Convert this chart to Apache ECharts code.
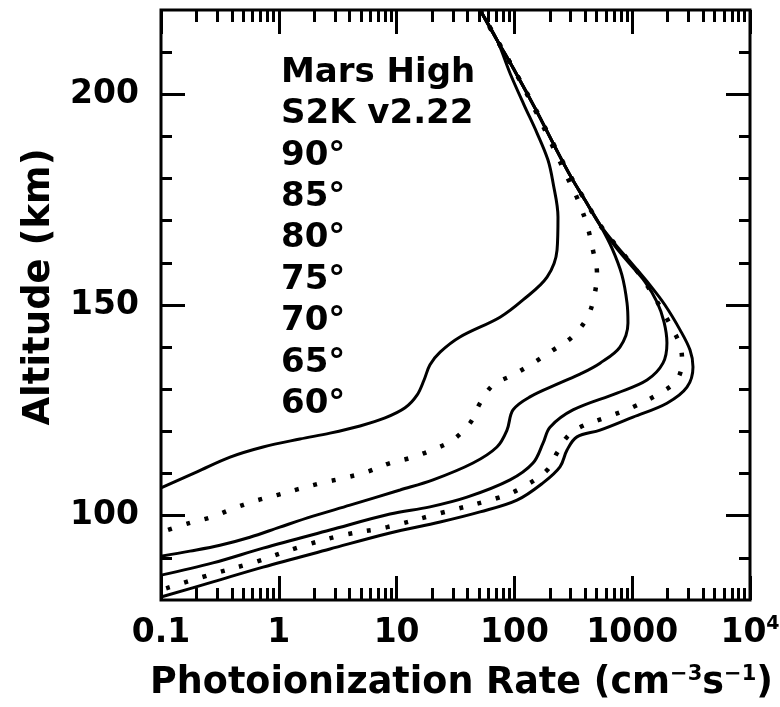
<!DOCTYPE html>
<html><head><meta charset="utf-8">
<script src="https://cdn.jsdelivr.net/npm/echarts@6/dist/echarts.min.js"></script>
<style>html,body{margin:0;padding:0;background:#fff}#c{width:780px;height:707px}</style>
</head><body><div id="c"></div>
<script>
// ---- data: [photoionization rate (cm^-3 s^-1), altitude (km)] ----
const sza90 = [[51.1,220],[71.1,212.9],[91.8,205.0],[120.6,197.5],[155.6,190.8],[192.8,184.4],[212.8,179.0],[234.4,170.9],[230.1,163.0],[189.2,156.6],[118.3,151.2],[75.5,147.1],[34.5,142.4],[23.4,138.8],[19.2,135.8],[17.1,132.2],[14.9,128.6],[11.8,125.6],[7.98,123.2],[4.89,121.3],[2.72,119.6],[1.51,118.2],[0.735,116.3],[0.386,113.9],[0.202,110.4],[0.1,106.6]];
const sza85 = [[51.1,220],[71.1,212.9],[103.2,205.0],[149.6,196.3],[212.8,187.5],[279.9,180.4],[346.7,174.9],[413.0,169.0],[464.5,163.0],[502.4,157.6],[474.2,151.9],[413.0,146.9],[308.3,142.4],[212.8,139.3],[143.9,136.2],[97.3,133.4],[65.8,131.0],[51.1,126.7],[42.0,122.0],[30.1,118.0],[20.0,115.6],[13.0,113.7],[8.79,112.5],[5.61,110.4],[3.51,108.9],[2.33,107.8],[1.46,106.3],[0.966,104.9],[0.628,103.5],[0.401,101.6],[0.271,99.7],[0.176,98.3],[0.1,96.1]];
const sza80 = [[51.1,220],[71.1,212.9],[103.2,205.0],[152.4,196.3],[221.2,187.5],[302.2,180.4],[397.2,174.9],[533.2,169.0],[673,163.5],[818.5,157.1],[903.6,150.5],[920.5,145.7],[787.0,140.0],[533.2,136.2],[360.6,133.6],[243.8,131.5],[135.5,128.2],[97.3,125.1],[86.5,120.3],[71.1,116.3],[44.5,112.5],[20.4,108.5],[10.7,106.1],[4.02,102.5],[1.95,99.9],[1.02,97.3],[0.569,94.9],[0.317,93.0],[0.176,91.6],[0.1,90.4]];
const sza70 = [[51.1,220],[71.1,212.9],[103.2,205.0],[152.4,196.3],[221.2,187.5],[302.2,180.4],[397.2,174.9],[533.2,169.0],[714,164.0],[957,159.7],[1285,155.5],[1626,150.7],[1862,146.0],[1972,141.0],[1824,136.2],[1336,132.2],[743,129.1],[314.1,125.1],[200.5,121.0],[175.0,117.2],[143.9,112.5],[91.8,108.5],[39.6,104.4],[19.2,102.1],[8.79,100.4],[2.72,96.6],[0.735,92.3],[0.276,88.8],[0.1,85.9]];
const sza65 = [[51.1,220],[71.1,212.9],[103.2,205.0],[152.4,196.3],[221.2,187.5],[302.2,180.4],[397.2,174.9],[533.2,169.0],[728,164.2],[1016,159.3],[1361,154.3],[1791,148.8],[2218,144.1],[2547,140.5],[2649,136.9],[2399,132.2],[1722,129.1],[1016,125.8],[611,123.4],[360.6,121.0],[279.9,118.7],[230.1,114.9],[189.2,110.8],[118.3,106.8],[75.5,104.4],[23.4,100.6],[8.30,97.3],[3.51,95.4],[1.51,92.6],[0.628,89.0],[0.261,86.0],[0.1,82.4]];
const sza60 = [[51.1,220],[71.1,212.9],[103.2,205.0],[152.4,196.3],[221.2,187.5],[302.2,180.4],[397.2,174.9],[533.2,169.0],[728,164.2],[1016,159.5],[1416,154.7],[1897,150.0],[2547,144.1],[3097,139.3],[3281,135.3],[2917,130.5],[1972,126.7],[1016,123.4],[533.2,120.3],[339.6,118.7],[279.9,115.6],[243.8,111.6],[175.0,107.8],[105.2,103.7],[51.1,100.9],[23.4,98.5],[8.79,95.9],[2.72,92.1],[0.735,87.8],[0.276,84.3],[0.1,80.7]];

const xMajorTicks = [0.1, 1, 10, 100, 1000, 10000];
const xMinorMultipliers = [2, 3, 4, 5, 6, 7, 8, 9];
const yMajorTicks = [100, 150, 200];
const yMinorTicks = [90, 110, 120, 130, 140, 160, 170, 180, 190, 210];
const annotationLines = ['Mars High', 'S2K v2.22', '90°', '85°', '80°', '75°', '70°', '65°', '60°'];

const xMinorTicks = [];
xMajorTicks.slice(0, -1).forEach(d => xMinorMultipliers.forEach(m => xMinorTicks.push(+(d * m).toPrecision(3))));

const FONT = '"DejaVu Sans", sans-serif';
const BLACK = '#000';
const tickStyle = {color: BLACK, width: 3};

function xLabel(v) {
  if (Math.abs(v - 10000) < 1) return '{n|10}{s|4}';
  if (v < 0.5) return '{n|0.1}';
  return '{n|' + Math.round(v) + '}';
}
const labelRich = {
  n: {fontFamily: FONT, fontWeight: 'bold', fontSize: 33, color: BLACK, lineHeight: 36},
  s: {fontFamily: FONT, fontWeight: 'bold', fontSize: 19, color: BLACK, lineHeight: 20, verticalAlign: 'top'}
};

function xAx(pos, ticks, len, labels) {
  const a = {
    type: 'log', logBase: 10, min: 0.1, max: 10000, position: pos,
    axisLine: {show: false}, splitLine: {show: false}, minorTick: {show: false},
    axisTick: {show: true, inside: true, length: len, customValues: ticks, lineStyle: tickStyle},
    axisLabel: {show: false}
  };
  if (labels) {
    a.axisLabel = {show: true, customValues: xMajorTicks, margin: 15, formatter: xLabel, rich: labelRich};
    a.name = 'Photoionization Rate (cm{s|\u22123}s{s|\u22121})';
    a.nameLocation = 'middle';
    a.nameGap = 64;
    a.nameTextStyle = {fontFamily: FONT, fontWeight: 'bold', fontSize: 36.5, color: BLACK, lineHeight: 40,
      padding: [0, 0, 0, 12],
      rich: {s: {fontFamily: FONT, fontWeight: 'bold', fontSize: 21, color: BLACK, lineHeight: 20, verticalAlign: 'top'}}};
  }
  return a;
}
function yAx(pos, ticks, len, labels) {
  const a = {
    type: 'value', min: 80, max: 220, position: pos,
    axisLine: {show: false}, splitLine: {show: false}, minorTick: {show: false},
    axisTick: {show: true, inside: true, length: len, customValues: ticks, lineStyle: tickStyle},
    axisLabel: {show: false}
  };
  if (labels) {
    a.axisLabel = {show: true, customValues: yMajorTicks, margin: 22, fontFamily: FONT, fontWeight: 'bold', fontSize: 33, color: BLACK};
    a.name = 'Altitude (km)';
    a.nameLocation = 'middle';
    a.nameGap = 103;
    a.nameRotate = 90;
    a.nameTextStyle = {fontFamily: FONT, fontWeight: 'bold', fontSize: 37, color: BLACK, padding: [0, 0, 0, 36]};
  }
  return a;
}

function curve(name, data, dotted) {
  return {
    name: name, type: 'line', data: data, xAxisIndex: 0, yAxisIndex: 0,
    showSymbol: false, symbol: 'none', smooth: 0.35, silent: true, animation: false,
    lineStyle: dotted ? {color: BLACK, width: 4.5, type: [4, 15], cap: 'butt'} : {color: BLACK, width: 3}
  };
}

const chart = echarts.init(document.getElementById('c'), null, {renderer: 'canvas'});
chart.setOption({
  animation: false,
  backgroundColor: '#fff',
  grid: {left: 161, right: 30, top: 10, bottom: 107, show: true, borderColor: BLACK, borderWidth: 3,
         backgroundColor: 'transparent', containLabel: false, outerBoundsMode: 'none'},
  xAxis: [
    xAx('bottom', xMajorTicks, 24, true),
    xAx('bottom', xMinorTicks, 12, false),
    xAx('top', xMajorTicks, 24, false),
    xAx('top', xMinorTicks, 12, false)
  ],
  yAxis: [
    yAx('left', yMajorTicks, 24, true),
    yAx('left', yMinorTicks, 11, false),
    yAx('right', yMajorTicks, 24, false),
    yAx('right', yMinorTicks, 11, false)
  ],
  series: [
    curve('90°', sza90, false),
    curve('85°', sza85, true),
    curve('80°', sza80, false),
    curve('70°', sza70, false),
    curve('65°', sza65, true),
    curve('60°', sza60, false)
  ],
  graphic: annotationLines.map((t, i) => ({
    type: 'text', x: 281, y: 73 + i * 41.4, silent: true,
    style: {text: t, font: 'bold 34px ' + FONT, fill: BLACK, align: 'left', verticalAlign: 'middle',
            textAlign: 'left', textVerticalAlign: 'middle'}
  }))
});
</script>
</body></html>
